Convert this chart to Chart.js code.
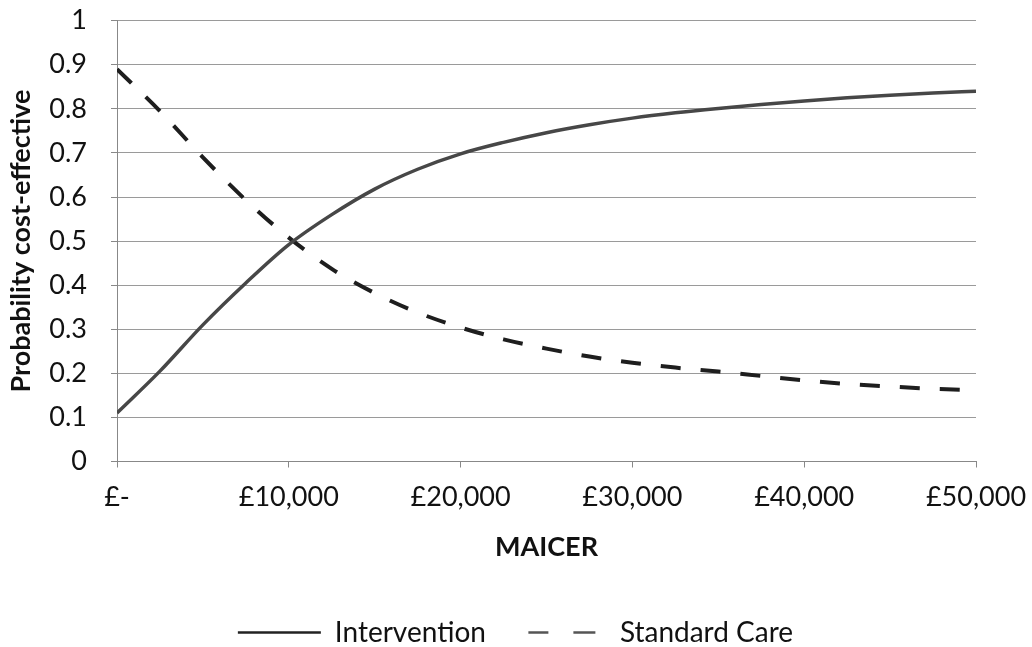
<!DOCTYPE html>
<html>
<head>
<meta charset="utf-8">
<script src="https://cdn.jsdelivr.net/npm/chart.js@4.4.1/dist/chart.umd.min.js"></script>
<style>
html,body{margin:0;padding:0;background:#fff;}
#wrap{width:1032px;height:647px;}
</style>
</head>
<body>
<div id="wrap"><canvas id="c" width="1032" height="647"></canvas></div>
<script>
// ---- data ----
const xValues = [0, 2500, 5000, 7500, 10000, 12500, 15000, 17500, 20000, 22500, 25000,
                 27500, 30000, 32500, 35000, 37500, 40000, 42500, 45000, 47500, 50000];
const intervention = [0.11, 0.205, 0.31, 0.405, 0.492, 0.56, 0.618, 0.663, 0.698, 0.724, 0.746,
                      0.764, 0.779, 0.791, 0.801, 0.810, 0.818, 0.825, 0.831, 0.836, 0.840];
const standardCare = [0.89, 0.795, 0.69, 0.593, 0.508, 0.437, 0.382, 0.338, 0.304, 0.277, 0.256,
                      0.238, 0.224, 0.213, 0.204, 0.194, 0.184, 0.176, 0.170, 0.165, 0.162];
const seriesNames = ['Intervention', 'Standard Care'];
const xTickLabels = ['£-', '£10,000', '£20,000', '£30,000', '£40,000', '£50,000'];
const yTickLabels = ['0', '0.1', '0.2', '0.3', '0.4', '0.5', '0.6', '0.7', '0.8', '0.9', '1'];
const xTitle = 'MAICER';
const yTitle = 'Probability cost-effective';

const FONT = 'Lato';
const TXT = '#111';

const toPoints = (ys) => ys.map((y, i) => ({x: xValues[i], y}));

new Chart(document.getElementById('c'), {
  type: 'line',
  data: {
    datasets: [
      {
        label: seriesNames[0],
        data: toPoints(intervention),
        borderColor: '#474747',
        backgroundColor: '#474747',
        borderWidth: 3.5,
        pointRadius: 0,
        cubicInterpolationMode: 'monotone',
        fill: false
      },
      {
        label: seriesNames[1],
        data: toPoints(standardCare),
        borderColor: '#1e1e1e',
        backgroundColor: '#1e1e1e',
        borderWidth: 4,
        borderDash: [20, 20],
        pointRadius: 0,
        cubicInterpolationMode: 'monotone',
        fill: false
      }
    ]
  },
  options: {
    responsive: false,
    animation: false,
    devicePixelRatio: 1,
    layout: { padding: { top: 20.7, right: 1, bottom: -9.5, left: 0 } },
    plugins: {
      tooltip: { enabled: false },
      legend: {
        position: 'bottom',
        labels: {
          usePointStyle: true,
          pointStyle: 'line',
          pointStyleWidth: 83,
          padding: 37,
          color: TXT,
          font: { family: FONT, size: 28 },
          generateLabels: (chart) => {
            const items = Chart.defaults.plugins.legend.labels.generateLabels(chart);
            items.forEach((it, i) => {
              it.lineWidth = 2.5;
              it.pointStyle = 'line';
              if (i === 1) { it.lineDash = [0, 5.5, 20, 25, 22, 40]; it.strokeStyle = '#555'; }
              else { it.lineDash = []; it.strokeStyle = '#222'; }
            });
            return items;
          }
        }
      }
    },
    scales: {
      x: {
        type: 'linear',
        min: 0,
        max: 50000,
        afterFit: (s) => { s.height = 120; s.paddingLeft = 0; s.paddingRight = 56; },
        ticks: {
          stepSize: 10000,
          autoSkip: false,
          maxRotation: 0,
          padding: 14,
          color: TXT,
          font: { family: FONT, size: 27 },
          callback: (v) => xTickLabels[Math.round(v / 10000)]
        },
        grid: { display: true, drawOnChartArea: false, drawTicks: true, tickLength: 6, color: '#888' },
        border: { display: true, color: '#888', width: 1 },
        title: {
          display: true,
          text: xTitle,
          color: TXT,
          font: { family: FONT, size: 27, weight: 'bold' },
          padding: { top: 0, bottom: 18 }
        }
      },
      y: {
        min: 0,
        max: 1,
        afterFit: (s) => { s.width = 117; s.paddingTop = 0; s.paddingBottom = 0; },
        ticks: {
          stepSize: 0.1,
          padding: 24,
          color: TXT,
          font: { family: FONT, size: 27 },
          callback: (v) => yTickLabels[Math.round(v * 10)]
        },
        grid: { color: '#9a9a9a', lineWidth: 1, drawTicks: true, tickLength: 6, tickColor: '#888' },
        border: { display: true, color: '#888', width: 1 },
        title: {
          display: true,
          text: yTitle,
          color: TXT,
          font: { family: FONT, size: 27, weight: 'bold' },
          padding: { top: 5, bottom: 0 }
        }
      }
    }
  }
});
</script>
</body>
</html>
